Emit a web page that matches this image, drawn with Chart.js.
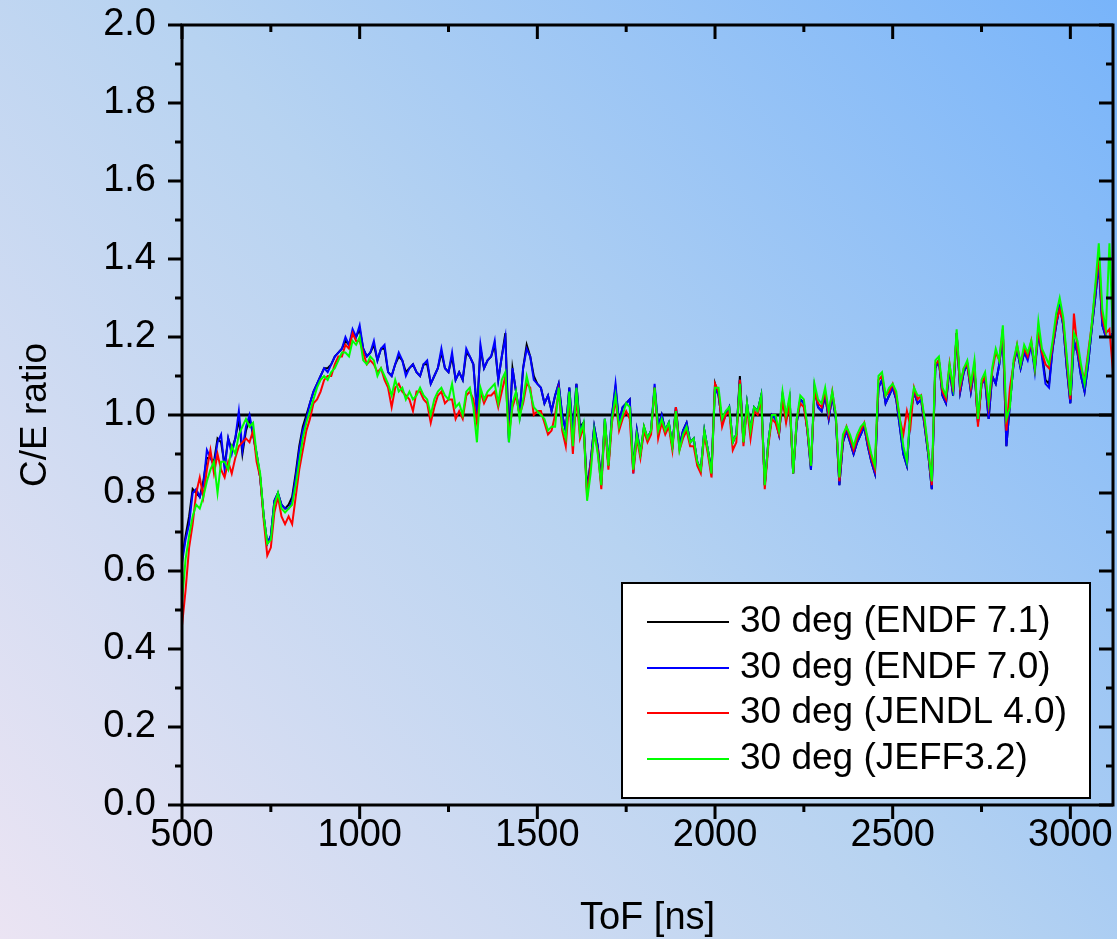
<!DOCTYPE html>
<html>
<head>
<meta charset="utf-8">
<title>C/E ratio - 30 deg</title>
<script src="https://cdn.jsdelivr.net/npm/chart.js@4.4.1/dist/chart.umd.min.js"></script>
<style>
	html, body { margin: 0; padding: 0; }
	body { width: 1117px; height: 939px; overflow: hidden; }
	canvas { display: block; }
</style>
</head>
<body>
<canvas id="myChart" width="1117" height="939"></canvas>
<script>
// 비행시간 [ns]
var tof = [
	500, 510, 520, 530, 540, 550, 560, 570, 580, 590,
	600, 610, 620, 630, 640, 650, 660, 670, 680, 690,
	700, 710, 720, 730, 740, 750, 760, 770, 780, 790,
	800, 810, 820, 830, 840, 850, 860, 870, 880, 890,
	900, 910, 920, 930, 940, 950, 960, 970, 980, 990,
	1000, 1010, 1020, 1030, 1040, 1050, 1060, 1070, 1080, 1090,
	1100, 1110, 1120, 1130, 1140, 1150, 1160, 1170, 1180, 1190,
	1200, 1210, 1220, 1230, 1240, 1250, 1260, 1270, 1280, 1290,
	1300, 1310, 1320, 1330, 1340, 1350, 1360, 1370, 1380, 1390,
	1400, 1410, 1420, 1430, 1440, 1450, 1460, 1470, 1480, 1490,
	1500, 1510, 1520, 1530, 1540, 1550, 1560, 1570, 1580, 1590,
	1600, 1610, 1620, 1630, 1640, 1650, 1660, 1670, 1680, 1690,
	1700, 1710, 1720, 1730, 1740, 1750, 1760, 1770, 1780, 1790,
	1800, 1810, 1820, 1830, 1840, 1850, 1860, 1870, 1880, 1890,
	1900, 1910, 1920, 1930, 1940, 1950, 1960, 1970, 1980, 1990,
	2000, 2010, 2020, 2030, 2040, 2050, 2060, 2070, 2080, 2090,
	2100, 2110, 2120, 2130, 2140, 2150, 2160, 2170, 2180, 2190,
	2200, 2210, 2220, 2230, 2240, 2250, 2260, 2270, 2280, 2290,
	2300, 2310, 2320, 2330, 2340, 2350, 2360, 2370, 2380, 2390,
	2400, 2410, 2420, 2430, 2440, 2450, 2460, 2470, 2480, 2490,
	2500, 2510, 2520, 2530, 2540, 2550, 2560, 2570, 2580, 2590,
	2600, 2610, 2620, 2630, 2640, 2650, 2660, 2670, 2680, 2690,
	2700, 2710, 2720, 2730, 2740, 2750, 2760, 2770, 2780, 2790,
	2800, 2810, 2820, 2830, 2840, 2850, 2860, 2870, 2880, 2890,
	2900, 2910, 2920, 2930, 2940, 2950, 2960, 2970, 2980, 2990,
	3000, 3010, 3020, 3030, 3040, 3050, 3060, 3070, 3080, 3090,
	3100, 3110, 3120
];

// C/E 비율 - ENDF/B-VII.1
var endf71 = [
	0.63, 0.69, 0.74, 0.81, 0.80, 0.79, 0.83, 0.89, 0.89, 0.88,
	0.94, 0.93, 0.87, 0.94, 0.91, 0.94, 0.99, 0.90, 0.96, 0.99,
	0.95, 0.90, 0.84, 0.74, 0.67, 0.69, 0.78, 0.80, 0.77, 0.76,
	0.77, 0.79, 0.85, 0.92, 0.97, 1.00, 1.03, 1.06, 1.08, 1.10,
	1.12, 1.12, 1.13, 1.15, 1.16, 1.17, 1.19, 1.18, 1.21, 1.20,
	1.22, 1.17, 1.15, 1.16, 1.18, 1.14, 1.17, 1.17, 1.11, 1.10,
	1.13, 1.15, 1.14, 1.11, 1.12, 1.13, 1.11, 1.10, 1.13, 1.13,
	1.08, 1.10, 1.12, 1.16, 1.12, 1.11, 1.15, 1.09, 1.11, 1.09,
	1.16, 1.15, 1.13, 1.01, 1.17, 1.12, 1.14, 1.15, 1.18, 1.09,
	1.15, 1.21, 0.94, 1.12, 1.06, 1.00, 1.12, 1.18, 1.15, 1.10,
	1.08, 1.07, 1.03, 1.05, 1.01, 1.05, 1.08, 1.00, 0.96, 1.07,
	0.95, 1.08, 0.97, 0.98, 0.81, 0.88, 0.97, 0.92, 0.83, 0.99,
	0.87, 1.00, 1.07, 0.98, 1.02, 1.03, 1.04, 0.86, 0.96, 0.90,
	0.97, 0.94, 0.96, 1.07, 0.97, 1.00, 0.96, 0.98, 0.92, 1.02,
	0.92, 0.96, 0.98, 0.93, 0.94, 0.88, 0.86, 0.96, 0.91, 0.86,
	1.08, 1.05, 0.98, 1.00, 1.02, 0.93, 0.95, 1.10, 0.93, 1.03,
	0.96, 1.02, 1.01, 1.05, 0.82, 0.93, 1.00, 0.99, 0.95, 1.05,
	0.99, 1.04, 0.85, 0.98, 1.04, 1.03, 0.96, 0.86, 1.07, 1.02,
	1.01, 1.05, 0.99, 1.05, 0.99, 0.82, 0.93, 0.96, 0.93, 0.90,
	0.93, 0.95, 0.97, 0.92, 0.88, 0.85, 1.07, 1.09, 1.03, 1.05,
	1.07, 1.04, 0.97, 0.90, 0.87, 1.00, 1.06, 1.03, 1.04, 0.97,
	0.90, 0.81, 1.12, 1.14, 1.05, 1.03, 1.12, 1.05, 1.21, 1.06,
	1.11, 1.13, 1.06, 1.12, 0.98, 1.08, 1.09, 0.99, 1.10, 1.08,
	1.13, 1.21, 0.92, 1.03, 1.13, 1.17, 1.12, 1.16, 1.15, 1.18,
	1.12, 1.21, 1.16, 1.09, 1.08, 1.17, 1.23, 1.28, 1.23, 1.12,
	1.03, 1.19, 1.16, 1.10, 1.06, 1.13, 1.22, 1.30, 1.39, 1.23,
	1.20, 1.20, 1.21
];

// C/E 비율 - ENDF/B-VII.0
var endf70 = [
	0.62, 0.68, 0.72, 0.80, 0.81, 0.79, 0.82, 0.91, 0.89, 0.87,
	0.93, 0.95, 0.86, 0.94, 0.90, 0.94, 1.01, 0.91, 0.97, 1.00,
	0.95, 0.90, 0.84, 0.74, 0.67, 0.69, 0.78, 0.80, 0.77, 0.76,
	0.76, 0.78, 0.84, 0.91, 0.96, 0.99, 1.03, 1.06, 1.08, 1.10,
	1.12, 1.11, 1.13, 1.15, 1.16, 1.17, 1.20, 1.18, 1.22, 1.20,
	1.23, 1.17, 1.15, 1.16, 1.19, 1.14, 1.17, 1.18, 1.11, 1.10,
	1.13, 1.16, 1.14, 1.10, 1.12, 1.13, 1.11, 1.10, 1.13, 1.14,
	1.08, 1.10, 1.12, 1.17, 1.12, 1.11, 1.16, 1.09, 1.11, 1.09,
	1.17, 1.15, 1.13, 1.00, 1.18, 1.12, 1.14, 1.15, 1.19, 1.09,
	1.15, 1.20, 0.93, 1.12, 1.06, 1.00, 1.12, 1.17, 1.15, 1.09,
	1.08, 1.07, 1.03, 1.05, 1.01, 1.05, 1.08, 1.00, 0.96, 1.07,
	0.95, 1.08, 0.96, 0.98, 0.80, 0.88, 0.97, 0.92, 0.82, 0.99,
	0.87, 1.00, 1.08, 0.98, 1.02, 1.03, 1.04, 0.85, 0.96, 0.90,
	0.96, 0.94, 0.96, 1.08, 0.97, 1.00, 0.96, 0.98, 0.92, 1.02,
	0.92, 0.96, 0.98, 0.93, 0.94, 0.88, 0.86, 0.96, 0.91, 0.85,
	1.07, 1.05, 0.98, 1.00, 1.02, 0.93, 0.95, 1.09, 0.93, 1.03,
	0.96, 1.02, 1.01, 1.05, 0.82, 0.93, 1.00, 0.99, 0.95, 1.05,
	0.99, 1.04, 0.85, 0.98, 1.04, 1.03, 0.96, 0.86, 1.07, 1.02,
	1.01, 1.05, 0.99, 1.05, 0.99, 0.82, 0.93, 0.96, 0.93, 0.90,
	0.93, 0.95, 0.97, 0.92, 0.88, 0.85, 1.07, 1.09, 1.03, 1.05,
	1.07, 1.04, 0.97, 0.90, 0.87, 1.00, 1.06, 1.03, 1.04, 0.97,
	0.90, 0.81, 1.12, 1.14, 1.05, 1.03, 1.12, 1.05, 1.21, 1.06,
	1.11, 1.13, 1.06, 1.12, 0.98, 1.08, 1.09, 0.99, 1.10, 1.08,
	1.13, 1.21, 0.92, 1.03, 1.13, 1.17, 1.12, 1.16, 1.14, 1.18,
	1.11, 1.21, 1.15, 1.08, 1.07, 1.17, 1.23, 1.28, 1.23, 1.12,
	1.03, 1.19, 1.16, 1.10, 1.06, 1.13, 1.22, 1.30, 1.39, 1.23,
	1.20, 1.20, 1.21
];

// C/E 비율 - JENDL-4.0
var jendl40 = [
	0.46, 0.55, 0.66, 0.72, 0.80, 0.84, 0.79, 0.86, 0.91, 0.85,
	0.90, 0.86, 0.84, 0.88, 0.85, 0.89, 0.92, 0.93, 0.94, 0.93,
	0.96, 0.88, 0.84, 0.73, 0.64, 0.66, 0.75, 0.79, 0.74, 0.72,
	0.74, 0.72, 0.79, 0.86, 0.91, 0.96, 0.99, 1.03, 1.04, 1.06,
	1.09, 1.10, 1.10, 1.13, 1.15, 1.15, 1.18, 1.17, 1.21, 1.19,
	1.19, 1.16, 1.13, 1.14, 1.13, 1.11, 1.12, 1.09, 1.07, 1.02,
	1.07, 1.08, 1.06, 1.05, 1.04, 1.01, 1.06, 1.06, 1.04, 1.03,
	0.98, 1.02, 1.05, 1.06, 1.03, 1.04, 1.04, 0.99, 1.01, 0.99,
	1.05, 1.06, 1.04, 0.98, 1.06, 1.03, 1.05, 1.05, 1.06, 1.02,
	1.06, 1.10, 0.95, 1.02, 1.05, 1.00, 1.03, 1.08, 1.07, 1.00,
	1.01, 1.01, 0.98, 0.95, 0.96, 1.00, 1.06, 0.96, 0.92, 1.04,
	0.90, 1.05, 0.94, 0.97, 0.79, 0.87, 0.95, 0.91, 0.81, 0.98,
	0.86, 0.98, 1.04, 0.96, 0.99, 1.01, 0.99, 0.85, 0.94, 0.89,
	0.96, 0.93, 0.95, 1.07, 0.94, 0.98, 0.95, 0.97, 0.91, 1.02,
	0.91, 0.94, 0.96, 0.92, 0.92, 0.87, 0.85, 0.95, 0.90, 0.84,
	1.08, 1.06, 0.97, 1.00, 1.01, 0.91, 0.93, 1.09, 0.92, 1.02,
	0.94, 1.01, 1.00, 1.04, 0.81, 0.92, 0.99, 0.98, 0.95, 1.04,
	0.98, 1.03, 0.85, 0.99, 1.03, 1.02, 0.96, 0.87, 1.06, 1.03,
	1.02, 1.06, 1.00, 1.06, 1.00, 0.83, 0.94, 0.97, 0.94, 0.91,
	0.94, 0.96, 0.98, 0.93, 0.89, 0.86, 1.09, 1.10, 1.05, 1.06,
	1.08, 1.05, 0.99, 0.95, 1.01, 0.97, 1.07, 1.04, 1.05, 0.98,
	0.91, 0.82, 1.13, 1.14, 1.06, 1.04, 1.13, 1.06, 1.21, 1.07,
	1.12, 1.13, 1.07, 1.13, 0.97, 1.08, 1.10, 1.02, 1.11, 1.16,
	1.14, 1.22, 0.96, 1.07, 1.13, 1.18, 1.13, 1.17, 1.15, 1.19,
	1.12, 1.22, 1.16, 1.13, 1.12, 1.18, 1.24, 1.27, 1.24, 1.14,
	1.04, 1.26, 1.17, 1.12, 1.09, 1.16, 1.23, 1.32, 1.41, 1.25,
	1.21, 1.22, 1.11
];

// C/E 비율 - JEFF-3.2
var jeff32 = [
	0.52, 0.63, 0.69, 0.74, 0.77, 0.76, 0.79, 0.83, 0.86, 0.88,
	0.80, 0.88, 0.88, 0.86, 0.92, 0.90, 0.95, 0.97, 0.99, 0.97,
	0.98, 0.90, 0.85, 0.74, 0.67, 0.68, 0.77, 0.80, 0.76, 0.75,
	0.76, 0.77, 0.82, 0.88, 0.94, 0.98, 1.01, 1.04, 1.07, 1.09,
	1.10, 1.09, 1.11, 1.12, 1.14, 1.16, 1.16, 1.15, 1.19, 1.18,
	1.20, 1.14, 1.13, 1.15, 1.14, 1.10, 1.12, 1.10, 1.08, 1.05,
	1.09, 1.06, 1.07, 1.04, 1.06, 1.04, 1.05, 1.07, 1.05, 1.04,
	1.00, 1.04, 1.06, 1.07, 1.05, 1.04, 1.08, 1.02, 1.03, 1.00,
	1.06, 1.07, 1.02, 0.93, 1.07, 1.04, 1.06, 1.07, 1.08, 1.03,
	1.09, 1.11, 0.93, 1.03, 1.06, 0.99, 1.04, 1.10, 1.06, 1.02,
	1.01, 1.00, 0.99, 0.96, 0.97, 0.97, 1.07, 0.97, 0.94, 1.06,
	0.92, 1.07, 0.95, 0.98, 0.78, 0.85, 0.96, 0.90, 0.82, 0.99,
	0.87, 0.99, 1.05, 0.97, 1.00, 1.03, 1.02, 0.86, 0.95, 0.90,
	0.97, 0.94, 0.96, 1.07, 0.96, 0.99, 0.96, 0.98, 0.92, 1.01,
	0.91, 0.95, 0.97, 0.93, 0.94, 0.88, 0.86, 0.96, 0.91, 0.85,
	1.07, 1.07, 0.99, 1.01, 1.02, 0.93, 0.95, 1.08, 0.93, 1.03,
	0.96, 1.02, 1.01, 1.05, 0.82, 0.93, 1.00, 1.00, 0.96, 1.06,
	1.00, 1.05, 0.85, 0.99, 1.05, 1.04, 0.97, 0.87, 1.08, 1.04,
	1.03, 1.07, 1.01, 1.06, 1.00, 0.84, 0.95, 0.97, 0.95, 0.92,
	0.95, 0.97, 0.98, 0.94, 0.90, 0.87, 1.10, 1.11, 1.05, 1.07,
	1.08, 1.06, 0.99, 0.92, 0.88, 1.01, 1.07, 1.05, 1.05, 0.99,
	0.91, 0.83, 1.14, 1.15, 1.07, 1.05, 1.13, 1.07, 1.22, 1.08,
	1.12, 1.14, 1.08, 1.14, 0.99, 1.09, 1.11, 1.03, 1.12, 1.17,
	1.14, 1.23, 0.99, 1.02, 1.14, 1.18, 1.13, 1.18, 1.16, 1.19,
	1.12, 1.24, 1.17, 1.15, 1.13, 1.19, 1.26, 1.30, 1.25, 1.15,
	1.05, 1.21, 1.19, 1.13, 1.08, 1.15, 1.23, 1.33, 1.44, 1.27,
	1.22, 1.44, 1.20
];

var seriesLabels = [ '30 deg (ENDF 7.1)', '30 deg (ENDF 7.0)', '30 deg (JENDL 4.0)', '30 deg (JEFF3.2)' ];
var seriesColors = [ '#000000', '#0000ff', '#ff0000', '#00ff00' ];

// 눈금
var xTicks = [ 500, 1000, 1500, 2000, 2500, 3000 ];
var xMinorTicks = [ 750, 1250, 1750, 2250, 2750 ];
var yTicks = [ 0.0, 0.2, 0.4, 0.6, 0.8, 1.0, 1.2, 1.4, 1.6, 1.8, 2.0 ];
var yMinorTicks = [ 0.1, 0.3, 0.5, 0.7, 0.9, 1.1, 1.3, 1.5, 1.7, 1.9 ];
var referenceRatio = 1.0;

var FONT = "'Liberation Sans', Arial, sans-serif";

function toPoints(values) {
	return values.map(function(v, i) {
		return { x : tof[i], y : v };
	});
}

// 축 라벨이 플롯 영역을 밀어내지 않도록 여백 제거
function clearScalePadding(scale) {
	scale.paddingTop = 0;
	scale.paddingBottom = 0;
	scale.paddingLeft = 0;
	scale.paddingRight = 0;
}

// 배경 그라데이션
var backgroundPlugin = {
	id : 'background',
	beforeDraw : function(chart) {
		var ctx = chart.ctx;
		var g = ctx.createLinearGradient(0, chart.height, chart.width, 0);
		g.addColorStop(0, '#ebe4f3');
		g.addColorStop(0.5, '#b7d3f1');
		g.addColorStop(1, '#78b4fa');
		ctx.save();
		ctx.fillStyle = g;
		ctx.fillRect(0, 0, chart.width, chart.height);
		ctx.restore();
	}
};

// C/E = 1 기준선
var referenceLinePlugin = {
	id : 'referenceLine',
	beforeDatasetsDraw : function(chart) {
		var ctx = chart.ctx, area = chart.chartArea;
		var y = chart.scales.y.getPixelForValue(referenceRatio);
		ctx.save();
		ctx.strokeStyle = '#000';
		ctx.lineWidth = 3;
		ctx.beginPath();
		ctx.moveTo(area.left, y);
		ctx.lineTo(area.right, y);
		ctx.stroke();
		ctx.restore();
	}
};

// 테두리와 눈금 (아래/왼쪽은 바깥, 위/오른쪽은 안쪽)
var framePlugin = {
	id : 'frame',
	afterDatasetsDraw : function(chart) {
		var ctx = chart.ctx, a = chart.chartArea;
		var xs = chart.scales.x, ys = chart.scales.y;
		var major = 14, minor = 7;

		function seg(x1, y1, x2, y2) {
			ctx.moveTo(x1, y1);
			ctx.lineTo(x2, y2);
		}

		ctx.save();
		ctx.strokeStyle = '#000';
		ctx.lineWidth = 3;
		ctx.lineCap = 'butt';
		ctx.beginPath();
		xTicks.forEach(function(v) {
			var px = xs.getPixelForValue(v);
			seg(px, a.bottom, px, a.bottom + major);
			seg(px, a.top, px, a.top + major);
		});
		xMinorTicks.forEach(function(v) {
			var px = xs.getPixelForValue(v);
			seg(px, a.bottom, px, a.bottom + minor);
			seg(px, a.top, px, a.top + minor);
		});
		yTicks.forEach(function(v) {
			var py = ys.getPixelForValue(v);
			seg(a.left - major, py, a.left, py);
			seg(a.right - major, py, a.right, py);
		});
		yMinorTicks.forEach(function(v) {
			var py = ys.getPixelForValue(v);
			seg(a.left - minor, py, a.left, py);
			seg(a.right - minor, py, a.right, py);
		});
		ctx.stroke();
		ctx.strokeRect(a.left, a.top, a.right - a.left, a.bottom - a.top);
		ctx.restore();
	}
};

// 범례 상자 (플롯 안쪽 오른쪽 아래)
var legendBoxPlugin = {
	id : 'legendBox',
	afterDraw : function(chart) {
		var ctx = chart.ctx, a = chart.chartArea;
		var boxRight = a.right - 23, boxBottom = a.bottom - 7;
		var boxW = 468, boxH = 215;
		var left = Math.round(boxRight - boxW), top = Math.round(boxBottom - boxH);
		var rowGap = 45.5;

		ctx.save();
		ctx.fillStyle = '#fff';
		ctx.fillRect(left, top, boxW, boxH);
		ctx.strokeStyle = '#000';
		ctx.lineWidth = 2;
		ctx.strokeRect(left, top, boxW, boxH);

		ctx.font = '37px ' + FONT;
		ctx.textBaseline = 'middle';
		ctx.textAlign = 'left';
		chart.data.datasets.forEach(function(ds, i) {
			var y = Math.round(top + 39 + i * rowGap);
			ctx.strokeStyle = ds.borderColor;
			ctx.lineWidth = 2;
			ctx.beginPath();
			ctx.moveTo(left + 25, y);
			ctx.lineTo(left + 107, y);
			ctx.stroke();
			ctx.fillStyle = '#000';
			ctx.fillText(ds.label, left + 118, y);
		});
		ctx.restore();
	}
};

var datasets = [ endf71, endf70, jendl40, jeff32 ].map(function(values, i) {
	return {
		label : seriesLabels[i],
		data : toPoints(values),
		borderColor : seriesColors[i],
		backgroundColor : seriesColors[i],
		borderWidth : 2,
		pointRadius : 0,
		fill : false,
		tension : 0,
		order : 4 - i
	};
});

var ctx = document.getElementById('myChart');
var myLineChart = new Chart(ctx, {
	type : 'line',
	data : { datasets : datasets },
	options : {
		responsive : false,
		animation : false,
		layout : {
			autoPadding : false,
			padding : { top : 25, right : 4, left : 0, bottom : 0 }
		},
		plugins : {
			legend : { display : false },
			tooltip : { enabled : false }
		},
		scales : {
			x : {
				type : 'linear',
				min : 500,
				max : 3120,
				grid : { display : false, drawTicks : false },
				border : { display : false },
				afterBuildTicks : function(scale) {
					scale.ticks = xTicks.map(function(v) { return { value : v }; });
				},
				afterFit : function(scale) {
					scale.height = 134;
					clearScalePadding(scale);
				},
				ticks : {
					padding : 8,
					color : '#000',
					maxRotation : 0,
					autoSkip : false,
					font : { family : FONT, size : 38 },
					callback : function(value) { return String(value); }
				},
				title : {
					display : true,
					text : 'ToF [ns]',
					color : '#000',
					font : { family : FONT, size : 38 },
					padding : { top : 0, bottom : -2 }
				}
			},
			y : {
				type : 'linear',
				min : 0,
				max : 2,
				grid : { display : false, drawTicks : false },
				border : { display : false },
				afterBuildTicks : function(scale) {
					scale.ticks = yTicks.map(function(v) { return { value : v }; });
				},
				afterFit : function(scale) {
					scale.width = 182;
					clearScalePadding(scale);
				},
				ticks : {
					padding : 26,
					color : '#000',
					font : { family : FONT, size : 38 },
					callback : function(value) { return value.toFixed(1); }
				},
				title : {
					display : true,
					text : 'C/E ratio',
					color : '#000',
					font : { family : FONT, size : 37 },
					padding : { top : 14, bottom : 0 }
				}
			}
		}
	},
	plugins : [ backgroundPlugin, referenceLinePlugin, framePlugin, legendBoxPlugin ]
});
</script>
</body>
</html>
